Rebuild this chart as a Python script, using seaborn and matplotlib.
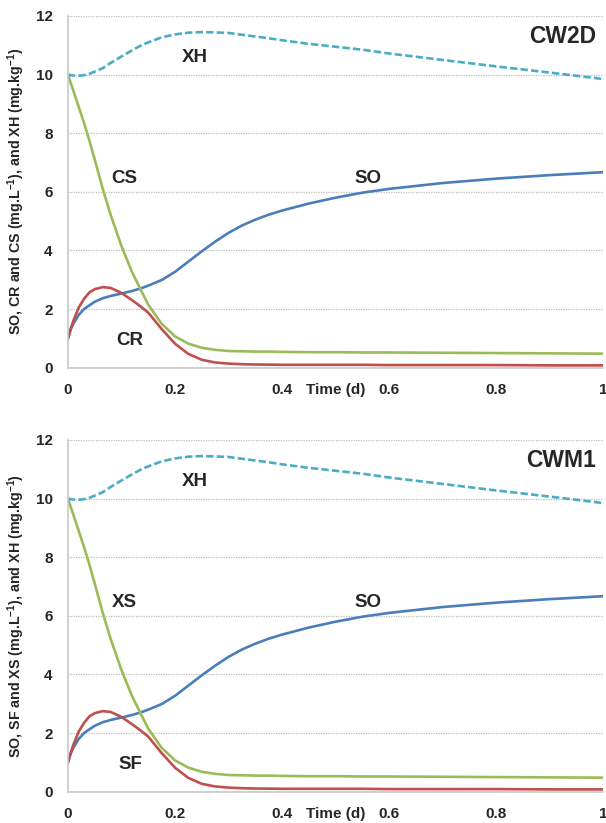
import matplotlib
matplotlib.use("Agg")
import matplotlib.pyplot as plt
import seaborn as sns
import pandas as pd

# values (both panels show the same curves)
time_d = [0, 0.005, 0.01, 0.02, 0.03, 0.04, 0.05, 0.065, 0.08, 0.1, 0.12, 0.135, 0.15, 0.175, 0.2,
          0.225, 0.25, 0.275, 0.3, 0.325, 0.35, 0.375, 0.4, 0.45, 0.5, 0.55, 0.6, 0.7, 0.8, 0.9, 1.0]
so = [1.0, 1.3, 1.5, 1.8, 2.0, 2.13, 2.25, 2.37, 2.45, 2.53, 2.62, 2.7, 2.8, 2.99, 3.27,
      3.62, 3.97, 4.3, 4.6, 4.85, 5.05, 5.22, 5.36, 5.6, 5.8, 5.97, 6.1, 6.3, 6.45, 6.57, 6.67]
cs = [10.0, 9.72, 9.45, 8.9, 8.35, 7.75, 7.1, 6.1, 5.2, 4.15, 3.25, 2.7, 2.15, 1.5, 1.07,
      0.82, 0.68, 0.61, 0.57, 0.56, 0.55, 0.55, 0.54, 0.53, 0.53, 0.52, 0.52, 0.51, 0.5, 0.49, 0.48]
cr = [1.0, 1.33, 1.6, 2.05, 2.35, 2.57, 2.68, 2.75, 2.72, 2.55, 2.3, 2.1, 1.88, 1.32, 0.82,
      0.47, 0.27, 0.18, 0.14, 0.12, 0.11, 0.105, 0.1, 0.1, 0.1, 0.1, 0.09, 0.09, 0.09, 0.08, 0.08]
xh = [10.0, 9.98, 9.97, 9.96, 9.98, 10.03, 10.1, 10.22, 10.4, 10.62, 10.83, 10.98, 11.1, 11.27, 11.37,
      11.43, 11.45, 11.44, 11.42, 11.36, 11.3, 11.24, 11.17, 11.05, 10.95, 10.85, 10.72, 10.5, 10.28,
      10.07, 9.85]

y_ticks = [0, 2, 4, 6, 8, 10, 12]
x_ticks = [0, 0.2, 0.4, 0.6, 0.8, 1]
x_tick_labels = ["0", "0.2", "0.4", "0.6", "0.8", "1"]

panels = [
    {"title": "CW2D", "names": ["SO", "CS", "CR", "XH"],
     "ylabel": r"SO, CR and CS (mg.L$^{\mathbf{-1}}$), and XH (mg.kg$^{\mathbf{-1}}$)"},
    {"title": "CWM1", "names": ["SO", "XS", "SF", "XH"],
     "ylabel": r"SO, SF and XS (mg.L$^{\mathbf{-1}}$), and XH (mg.kg$^{\mathbf{-1}}$)"},
]

sns.set_style("white")
plt.rcParams['font.family'] = ['Liberation Sans', 'DejaVu Sans']
plt.rcParams['font.weight'] = 'bold'
plt.rcParams['mathtext.fontset'] = 'custom'
plt.rcParams['mathtext.bf'] = 'Liberation Sans:bold'
plt.rcParams['mathtext.rm'] = 'Liberation Sans:bold'

colors = ["#4a7ebb", "#9bbb59", "#c0504d", "#4bacc6"]

fig = plt.figure(figsize=(6.06, 8.23), dpi=100)
positions = [[0.1122, 0.5532, 0.8828, 0.4274], [0.1122, 0.038, 0.8828, 0.4274]]

for pos, p in zip(positions, panels):
    ax = fig.add_axes(pos)
    df = pd.DataFrame({"t": time_d, p["names"][0]: so, p["names"][1]: cs,
                       p["names"][2]: cr, p["names"][3]: xh})
    for name, c in zip(p["names"], colors):
        sns.lineplot(data=df, x="t", y=name, ax=ax, color=c, linewidth=1.9)
    ax.lines[-1].set_dashes((2.8, 1.2))

    ax.set_xlim(0, 1)
    ax.set_ylim(0, 12)
    ax.set_yticks(y_ticks)
    ax.set_xticks(x_ticks)
    ax.set_xticklabels(x_tick_labels)
    ax.tick_params(axis="both", length=0, labelsize=11)
    ax.tick_params(axis="x", pad=11)
    ax.tick_params(axis="y", pad=11)
    ax.yaxis.grid(True, color="#bdbdbd", linestyle=(0, (1, 1)), linewidth=0.9)
    ax.set_axisbelow(True)
    for s in ["top", "right"]:
        ax.spines[s].set_visible(False)
    for s in ["left", "bottom"]:
        ax.spines[s].set_color("#c8c8c8")
        ax.spines[s].set_linewidth(1.2)

    ax.set_xlabel("")
    ax.set_ylabel(p["ylabel"], fontsize=10.3, fontweight="bold")
    ax.yaxis.set_label_coords(-0.077, 0.5)
    ax.text(0.5, -0.062, "Time (d)", transform=ax.transAxes, ha="center", va="center",
            fontsize=11, fontweight="bold")

    # curve labels
    ax.text(0.237, 10.57, p["names"][3], ha="center", va="center", fontsize=13.5, fontweight="bold")
    ax.text(0.106, 6.47, p["names"][1], ha="center", va="center", fontsize=13.5, fontweight="bold")
    ax.text(0.56, 6.47, p["names"][0], ha="center", va="center", fontsize=13.5, fontweight="bold")
    ax.text(0.116, 0.94, p["names"][2], ha="center", va="center", fontsize=13.5, fontweight="bold")
    ax.text(0.987, 11.3, p["title"], ha="right", va="center", fontsize=16.5, fontweight="bold")

fig.savefig("out.png", dpi=100)
